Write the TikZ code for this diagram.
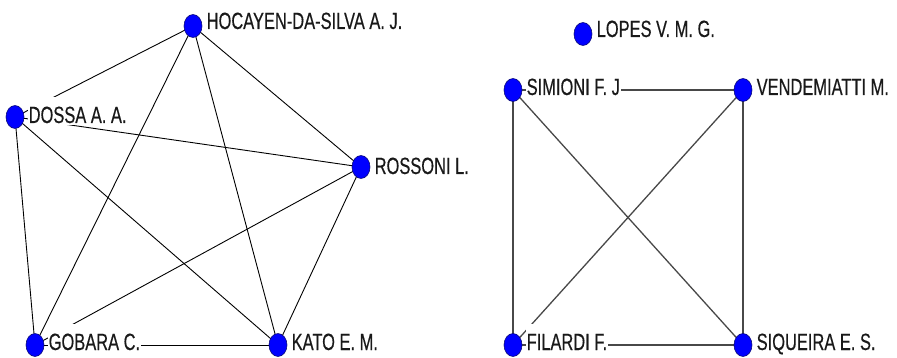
\documentclass[tikz,border=0pt]{standalone}
\usepackage{fontspec}
\newfontfamily\lblfont[FakeStretch=0.70, FakeBold=0.4]{Liberation Sans}
\usetikzlibrary{shapes.geometric}
\definecolor{vtxblue}{RGB}{0,0,255}
\definecolor{vtxrim}{RGB}{10,10,120}
\definecolor{edgegray}{RGB}{72,72,72}
\tikzset{
  vtx/.style={ellipse, draw=vtxrim, line width=0.6pt, fill=vtxblue,
    minimum width=18pt, minimum height=23pt, inner sep=0pt},
  lbl/.style={anchor=base west, fill=white, inner xsep=1pt, inner ysep=0pt,
    text height=26pt, text depth=2pt, font=\lblfont\fontsize{23.5}{26}\selectfont,
    text=black!90},
  edgeL/.style={draw=black, line width=0.9pt},
  edgeR/.style={draw=edgegray, line width=1.3pt}
}
\begin{document}
\begin{tikzpicture}[x=1pt, y=-1pt]
\useasboundingbox (0,0) rectangle (897,358);
% vertex positions
\coordinate (hoc) at (193,26);
\coordinate (dos) at (15,117);
\coordinate (ros) at (361,167);
\coordinate (gob) at (35,345);
\coordinate (kat) at (278,345);
\coordinate (lop) at (583,34);
\coordinate (sim) at (513,90);
\coordinate (ven) at (743,90);
\coordinate (fil) at (513,345);
\coordinate (siq) at (743,345);
% first component: complete graph on five authors
\foreach \a/\b in {hoc/dos, hoc/ros, hoc/gob, hoc/kat, dos/ros, dos/gob, dos/kat, ros/gob, ros/kat, gob/kat}
  \draw[edgeL] (\a) -- (\b);
% second component: complete graph on four authors
\foreach \a/\b in {sim/ven, sim/fil, sim/siq, ven/fil, ven/siq, fil/siq}
  \draw[edgeR] (\a) -- (\b);
% name labels with white backing
\path (hoc) ++(12.5,3) node[lbl] (lhoc) {HOCAYEN-DA-SILVA A. J.};
\path (dos) ++(12.5,6) node[lbl] (ldos) {DOSSA A. A.};
\path (ros) ++(12.5,7) node[lbl] (lros) {ROSSONI L.};
\path (gob) ++(12.5,5) node[lbl] (lgob) {GOBARA C.};
\path (kat) ++(12.5,5) node[lbl] (lkat) {KATO E. M.};
\path (lop) ++(12.5,3) node[lbl] (llop) {LOPES V. M. G.};
\path (sim) ++(12.5,5) node[lbl] (lsim) {SIMIONI F. J};
\path (ven) ++(12.5,5) node[lbl] (lven) {VENDEMIATTI M.};
\path (fil) ++(12.5,5) node[lbl] (lfil) {FILARDI F.};
\path (siq) ++(12.5,5) node[lbl] (lsiq) {SIQUEIRA E. S.};
% vertices
\foreach \n in {hoc, dos, ros, gob, kat, lop, sim, ven, fil, siq}
  \node[vtx] (v\n) at (\n) {};
\end{tikzpicture}
\end{document}
